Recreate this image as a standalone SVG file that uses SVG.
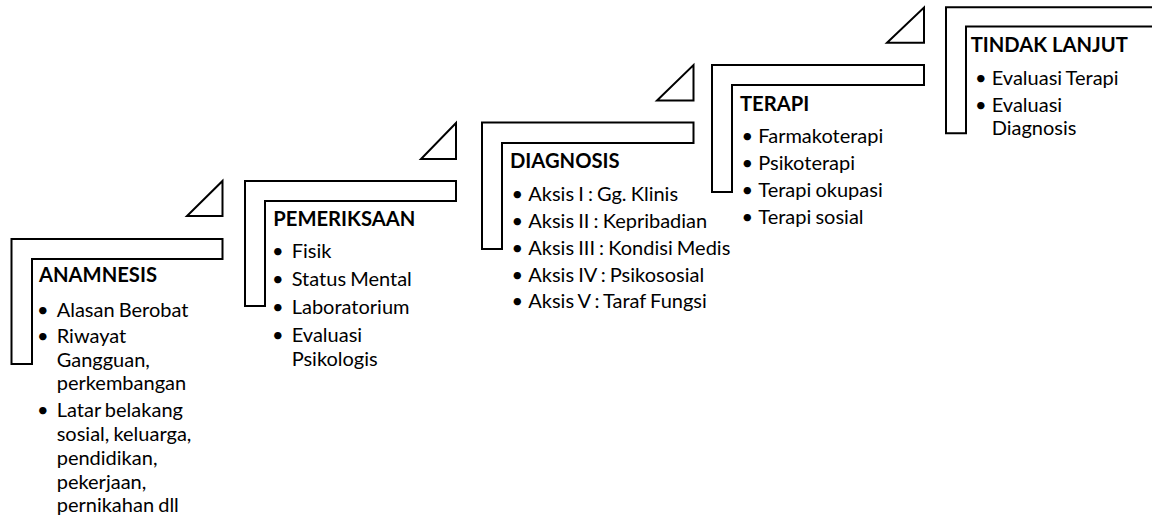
<svg xmlns="http://www.w3.org/2000/svg" width="1152" height="515" viewBox="0 0 1152 515">
<style>
.step{fill:#fff;stroke:#000;stroke-width:2;stroke-linejoin:miter}
.tri{fill:#fff;stroke:#000;stroke-width:2;stroke-linejoin:miter}
.h{font-family:Lato,"Open Sans",sans-serif;font-weight:bold;font-size:20.2px;fill:#000}
.t{font-family:Lato,"Open Sans",sans-serif;font-size:20px;word-spacing:-1px;fill:#000}
</style>
<rect width="1152" height="515" fill="#fff"/>
<g id="connectors">
<polygon class="tri" points="187,216 222.5,216 222.5,181"/>
<polygon class="tri" points="421,159 456,159 456,123"/>
<polygon class="tri" points="657,100.5 693.5,100.5 693.5,65"/>
<polygon class="tri" points="887,42.7 924,42.7 924,7.5"/>
</g>
<g id="anamnesis">
<path class="step" d="M11.5,239 H222.5 V259 H32 V364 H11.5 Z"/>
<text class="h" x="39" y="282">ANAMNESIS</text>
<text class="t"><tspan x="37" y="317">•</tspan><tspan x="56.7" y="317">Alasan Berobat</tspan>
<tspan x="37" y="343">•</tspan><tspan x="56.7" y="343">Riwayat</tspan>
<tspan x="56.7" y="366.5">Gangguan,</tspan>
<tspan x="56.7" y="390">perkembangan</tspan>
<tspan x="37" y="417">•</tspan><tspan x="56.7" y="417">Latar belakang</tspan>
<tspan x="56.7" y="441">sosial, keluarga,</tspan>
<tspan x="56.7" y="465">pendidikan,</tspan>
<tspan x="56.7" y="488.5">pekerjaan,</tspan>
<tspan x="56.7" y="512">pernikahan dll</tspan></text>
</g>
<g id="pemeriksaan">
<path class="step" d="M245,181 H456 V201 H265 V306 H245 Z"/>
<text class="h" x="273.3" y="225.7">PEMERIKSAAN</text>
<text class="t"><tspan x="272" y="258.3">•</tspan><tspan x="291.7" y="258.3">Fisik</tspan>
<tspan x="272" y="285.7">•</tspan><tspan x="291.7" y="285.7">Status Mental</tspan>
<tspan x="272" y="314">•</tspan><tspan x="291.7" y="314">Laboratorium</tspan>
<tspan x="272" y="341.7">•</tspan><tspan x="291.7" y="341.7">Evaluasi</tspan>
<tspan x="291.7" y="365.5">Psikologis</tspan></text>
</g>
<g id="diagnosis">
<path class="step" d="M482,122.5 H693.5 V143 H502 V249 H482 Z"/>
<text class="h" x="510" y="168.3">DIAGNOSIS</text>
<text class="t"><tspan x="511.5" y="200.7">•</tspan><tspan x="528.3" y="200.7">Aksis I : Gg. Klinis</tspan>
<tspan x="511.5" y="227.5">•</tspan><tspan x="528.3" y="227.5">Aksis II : Kepribadian</tspan>
<tspan x="511.5" y="254.5">•</tspan><tspan x="528.3" y="254.5">Aksis III : Kondisi Medis</tspan>
<tspan x="511.5" y="281.5">•</tspan><tspan x="528.3" y="281.5">Aksis IV : Psikososial</tspan>
<tspan x="511.5" y="308.3">•</tspan><tspan x="528.3" y="308.3">Aksis V : Taraf Fungsi</tspan></text>
</g>
<g id="terapi">
<path class="step" d="M712,65 H924 V85 H732 V192 H712 Z"/>
<text class="h" x="740" y="110.7">TERAPI</text>
<text class="t"><tspan x="741.5" y="143.3">•</tspan><tspan x="758.3" y="143.3">Farmakoterapi</tspan>
<tspan x="741.5" y="170.3">•</tspan><tspan x="758.3" y="170.3">Psikoterapi</tspan>
<tspan x="741.5" y="197.3">•</tspan><tspan x="758.3" y="197.3">Terapi okupasi</tspan>
<tspan x="741.5" y="224.3">•</tspan><tspan x="758.3" y="224.3">Terapi sosial</tspan></text>
</g>
<g id="tindak-lanjut">
<path class="step" d="M946,7.3 H1162 V26.5 H966 V133.3 H946 Z"/>
<text class="h" x="970.7" y="52.3">TINDAK LANJUT</text>
<text class="t"><tspan x="975" y="85">•</tspan><tspan x="991.7" y="85">Evaluasi Terapi</tspan>
<tspan x="975" y="111.5">•</tspan><tspan x="991.7" y="111.5">Evaluasi</tspan>
<tspan x="991.7" y="134.5">Diagnosis</tspan></text>
</g>
</svg>
